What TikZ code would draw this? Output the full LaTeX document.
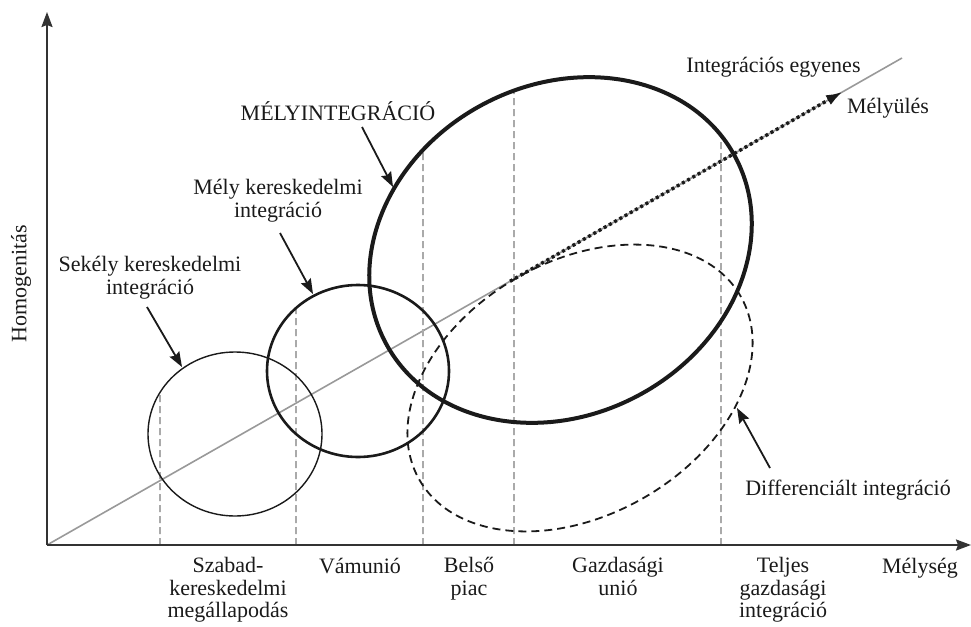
\documentclass[tikz,border=0pt]{standalone}
\usepackage{fontspec}
\setmainfont{Liberation Serif}
\usetikzlibrary{arrows.meta,calc,intersections}
\newcommand\lblfont{\fontsize{22}{22.7}\selectfont}
\definecolor{axisgray}{HTML}{333333}
\definecolor{linegray}{HTML}{999999}
\definecolor{guidegray}{HTML}{AAAAAA}
\definecolor{ink}{HTML}{1A1A1A}

\begin{document}
\begin{tikzpicture}[x=1pt,y=-1pt,
  axis/.style={draw=axisgray,line width=2pt,-{Stealth[length=15pt,width=11pt,inset=2pt]}},
  intline/.style={draw=linegray,line width=1.6pt},
  guide/.style={draw=guidegray,line width=1.6pt,dash pattern=on 7pt off 4pt},
  ring/.style={draw=ink},
  diffring/.style={draw=ink,line width=1.8pt,dash pattern=on 8pt off 5pt},
  deepening/.style={draw=ink,line width=3.4pt,dash pattern=on 3pt off 3pt,
    -{Latex[length=17pt,width=11pt]}},
  ann/.style={draw=ink,line width=1.8pt,-{Stealth[length=15pt,width=11pt,inset=2pt]}},
  lbl/.style={font=\lblfont,text=ink,align=center,inner sep=0pt,anchor=north,
    execute at begin node=\strut},
  one/.style={font=\lblfont,text=ink,inner sep=0pt,anchor=base},
]
\useasboundingbox (0,0) rectangle (971,626);

% axes and the integration line
\coordinate (O) at (47,545);
\coordinate (ytip) at (47,12);
\coordinate (xtip) at (971,545);
\coordinate (E) at (902,58);
\draw[intline] (O) -- (E);

% integration stages (paths for the guide intersections)
\path[name path=small] (235,434) ellipse [x radius=87pt, y radius=82pt];
\path[name path=medium] (358,371) ellipse [x radius=91pt, y radius=86pt];
\path[name path=big, rotate around={28:(560.5,250)}] (560.5,250) ellipse [x radius=198pt, y radius=165pt];

% vertical guides from the axis up to the matching stage
\coordinate (foot1) at (160,545);
\coordinate (foot2) at (296,545);
\coordinate (foot3) at (423,545);
\coordinate (foot4) at (514,545);
\coordinate (foot5) at (721,545);
\path[name path=vertA] (foot1) -- ++(0,-545);
\path[name path=vertB] (foot2) -- ++(0,-545);
\path[name path=vertC] (foot3) -- ++(0,-545);
\path[name path=vertD] (foot4) -- ++(0,-545);
\path[name path=vertE] (foot5) -- ++(0,-545);
\draw[guide, name intersections={of=vertA and small, sort by=vertA, name=ia}] (foot1) -- (ia-2);
\draw[guide, name intersections={of=vertB and medium, sort by=vertB, name=ib}] (foot2) -- (ib-2);
\draw[guide, name intersections={of=vertC and big, sort by=vertC, name=ic}] (foot3) -- (ic-2);
\draw[guide, name intersections={of=vertD and big, sort by=vertD, name=id}] (foot4) -- (id-2);
\draw[guide, name intersections={of=vertE and big, sort by=vertE, name=ie}] (foot5) -- (ie-2);

\draw[ring, line width=1.4pt] (235,434) ellipse [x radius=87pt, y radius=82pt];
\draw[ring, line width=2.6pt] (358,371) ellipse [x radius=91pt, y radius=86pt];
\draw[diffring, rotate around={29.7:(580,388)}] (580,388) ellipse [x radius=185pt, y radius=127pt];
\draw[ring, line width=4pt, rotate around={28:(560.5,250)}] (560.5,250) ellipse [x radius=198pt, y radius=165pt];

% deepening along the integration line
\coordinate (ds) at ($(O)!0.5415!(E)$);
\coordinate (de) at ($(O)!0.931!(E)$);
\draw[deepening] (ds) -- (de);

\draw[axis] (O) -- (ytip);
\draw[axis] (O) -- (xtip);

% labels
\node[one, rotate=90, anchor=center] (homog) at (21,284) {Homogenitás};
\node[one] (melyseg) at (920,573) {Mélység};
\node[one] (egyenes) at (773.5,73) {Integrációs egyenes};
\node[one] (melyules) at (888,113) {Mélyülés};
\node[one] (melyint) at (338,120) {MÉLYINTEGRÁCIÓ};
\node[one] (diff) at (848,495) {Differenciált integráció};
\node[lbl] (sekely) at (150,256) {Sekély kereskedelmi\\integráció};
\node[lbl] (melyker) at (278,179) {Mély kereskedelmi\\integráció};

\node[lbl] (szabad) at (228,557) {Szabad-\\kereskedelmi\\megállapodás};
\node[one] (vamunio) at (360,573) {Vámunió};
\node[lbl] (belso) at (469,557) {Belső\\piac};
\node[lbl] (gazd) at (618,557) {Gazdasági\\unió};
\node[lbl] (teljes) at (783,557) {Teljes\\gazdasági\\integráció};

% pointers to the stages
\coordinate (p1s) at (147,307); \coordinate (p1e) at (182,367);
\coordinate (p2s) at (280,233); \coordinate (p2e) at (313,294);
\coordinate (p3s) at (362,127); \coordinate (p3e) at (393,187);
\coordinate (p4s) at (770,468); \coordinate (p4e) at (737,408);
\draw[ann] (p1s) -- (p1e);
\draw[ann] (p2s) -- (p2e);
\draw[ann] (p3s) -- (p3e);
\draw[ann] (p4s) -- (p4e);
\end{tikzpicture}
\end{document}
